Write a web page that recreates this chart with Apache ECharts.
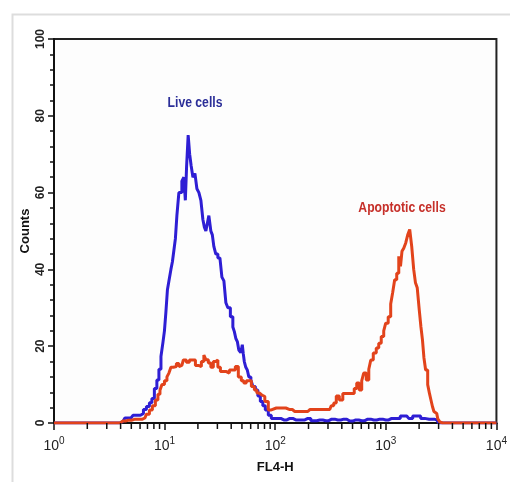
<!DOCTYPE html>
<html>
<head>
<meta charset="utf-8">
<script src="https://cdn.jsdelivr.net/npm/echarts@6/dist/echarts.min.js"></script>
<style>
html,body{margin:0;padding:0;background:#fff;}
#chart{width:510px;height:482px;}
</style>
</head>
<body>
<div id="chart"></div>
<script>
// FL4-H positions given as log10(FL4-H), counts
const liveLog = [0, 0.596, 0.623, 0.659, 0.696, 0.732, 0.768, 0.795, 0.822, 0.849, 0.876, 0.894, 0.921, 0.939, 0.958, 0.976, 0.994, 1.003, 1.021, 1.030, 1.048, 1.066, 1.075, 1.093, 1.102, 1.120, 1.138, 1.147, 1.165, 1.183, 1.192, 1.206, 1.220, 1.233, 1.247, 1.265, 1.283, 1.301, 1.319, 1.337, 1.355, 1.364, 1.382, 1.391, 1.409, 1.427, 1.436, 1.454, 1.472, 1.491, 1.509, 1.527, 1.545, 1.563, 1.581, 1.608, 1.626, 1.635, 1.653, 1.662, 1.680, 1.698, 1.707, 1.716, 1.725, 1.743, 1.752, 1.771, 1.789, 1.807, 1.834, 1.852, 1.879, 1.897, 1.924, 1.951, 1.978, 2.023, 2.078, 2.132, 2.186, 2.240, 2.295, 2.349, 2.403, 2.457, 2.511, 2.566, 2.620, 2.674, 2.728, 2.782, 2.837, 2.891, 2.945, 2.999, 3.053, 3.108, 3.153, 3.189, 3.225, 3.261, 3.297, 3.333, 3.369, 3.415, 3.460, 3.496, 4];
const liveCount = [0, 0, 0.4, 1.3, 1.3, 2, 2, 2.5, 3.5, 4.3, 5.3, 6.4, 9, 11.2, 14, 17.3, 21, 24, 29, 34.7, 37, 40, 42, 45, 48, 54, 60, 60, 63, 64, 58, 67, 75, 70, 67, 64, 65, 61, 60, 58, 53, 51, 50, 52, 54, 50, 49, 46, 44, 43, 42.5, 38, 37, 31.3, 30, 27.7, 25, 23.8, 22, 21.2, 19, 18.3, 20.4, 18, 16, 14.5, 13.8, 12, 11.2, 9.5, 8.6, 7, 5.6, 4.5, 3.4, 2, 1.2, 1.2, 0.8, 1.2, 0.8, 0.8, 1.2, 0.6, 0.8, 0.6, 1, 0.8, 1, 0.5, 0.8, 0.6, 1, 0.8, 1, 0.8, 1.2, 1.2, 1.8, 1.8, 1.2, 1.8, 1.8, 1.2, 1, 1, 0.8, 0, 0];

const apoLog = [0, 0.596, 0.623, 0.668, 0.732, 0.777, 0.822, 0.849, 0.876, 0.903, 0.930, 0.949, 0.967, 0.985, 1.012, 1.030, 1.048, 1.066, 1.093, 1.120, 1.138, 1.156, 1.183, 1.210, 1.238, 1.265, 1.292, 1.319, 1.346, 1.364, 1.382, 1.409, 1.427, 1.454, 1.472, 1.491, 1.518, 1.545, 1.572, 1.599, 1.626, 1.653, 1.680, 1.707, 1.725, 1.752, 1.771, 1.798, 1.825, 1.843, 1.870, 1.888, 1.924, 1.951, 1.978, 2.042, 2.096, 2.132, 2.177, 2.222, 2.276, 2.313, 2.358, 2.403, 2.448, 2.493, 2.520, 2.538, 2.566, 2.593, 2.629, 2.665, 2.701, 2.728, 2.746, 2.773, 2.791, 2.809, 2.837, 2.855, 2.873, 2.900, 2.927, 2.945, 2.972, 2.990, 3.008, 3.035, 3.053, 3.071, 3.089, 3.108, 3.126, 3.139, 3.153, 3.171, 3.189, 3.207, 3.225, 3.243, 3.261, 3.275, 3.293, 3.311, 3.324, 3.338, 3.351, 3.369, 3.388, 3.401, 3.415, 3.428, 3.442, 3.460, 3.478, 3.496, 3.514, 4];
const apoCount = [0, 0, 0.5, 0.7, 1, 1, 1.3, 2.3, 3.4, 4.5, 6, 7.5, 8.5, 10, 11, 12, 13, 14.5, 14.7, 15.5, 14.7, 15, 16.4, 15.8, 16.4, 16.4, 15, 14.7, 16, 17.7, 16.5, 15.6, 14.5, 16, 16.4, 14.5, 13.4, 13.4, 13, 13.8, 13.8, 14.7, 12, 11, 10.4, 11, 11, 9.5, 8.6, 7.8, 7.3, 6.9, 5.6, 3.4, 3.9, 3.9, 3.9, 3.5, 3, 3, 3, 3.5, 3.5, 3.5, 3.5, 3.5, 4.5, 5.2, 7, 6, 7.7, 7.7, 7.7, 9, 10.4, 8.6, 11, 13, 11.2, 14, 16.4, 18.2, 19.5, 20.8, 22.5, 24, 26, 27.7, 31, 34, 37.3, 39, 43.4, 40.8, 44.7, 45.5, 46.9, 49, 50.4, 46, 40, 36.5, 35.2, 29.5, 25, 21.7, 17, 13.8, 10, 7.7, 6, 4.3, 3, 2.5, 1.2, 0.3, 0, 0];

const decades = [0, 1, 2, 3];
const minorMultipliers = [2, 3, 4, 5, 6, 7, 8, 9];
const xAxisName = 'FL4-H';
const yAxisName = 'Counts';
const liveLabel = 'Live cells';
const apoLabel = 'Apoptotic cells';

const toPairs = (lg, cnt) => lg.map((v, i) => [Math.pow(10, v), cnt[i]]);
const minorTicks = [];
decades.forEach(d => minorMultipliers.forEach(m => minorTicks.push([m * Math.pow(10, d), 0])));

const FONT = "'Liberation Sans', Arial, sans-serif";

const chart = echarts.init(document.getElementById('chart'), null, {renderer: 'canvas'});
chart.setOption({
  animation: false,
  backgroundColor: '#ffffff',
  grid: {left: 54, right: 12, top: 39, bottom: 59, show: true, borderColor: '#222', borderWidth: 2, backgroundColor: '#fdfdfd'},
  xAxis: {
    type: 'log', logBase: 10, min: 1, max: 10000,
    name: xAxisName, nameLocation: 'middle', nameGap: 38, nameMoveOverlap: false,
    nameTextStyle: {fontFamily: FONT, fontWeight: 'bold', fontSize: 13, color: '#111'},
    axisLine: {lineStyle: {color: '#111', width: 2}},
    axisTick: {show: true, inside: false, length: 7, lineStyle: {color: '#111', width: 1.5}},
    splitLine: {show: false},
    axisLabel: {
      margin: 14,
      formatter: v => '{b|10}{e|' + Math.round(Math.log10(v)) + '}',
      rich: {
        b: {fontFamily: FONT, fontSize: 14, color: '#222', lineHeight: 18},
        e: {fontFamily: FONT, fontSize: 10, color: '#222', lineHeight: 10, padding: [0, 0, 9, 0]}
      }
    }
  },
  yAxis: {
    type: 'value', min: 0, max: 100, interval: 20,
    name: yAxisName, nameLocation: 'middle', nameGap: 22, nameRotate: 90, nameMoveOverlap: false,
    nameTextStyle: {fontFamily: FONT, fontWeight: 'bold', fontSize: 13, color: '#111'},
    axisLine: {show: true, lineStyle: {color: '#111', width: 2}},
    axisTick: {show: true, inside: false, length: 6, lineStyle: {color: '#111', width: 1.5}},
    minorTick: {show: true, splitNumber: 5, length: 4, lineStyle: {color: '#111', width: 1.5}},
    splitLine: {show: false},
    axisLabel: {rotate: 90, margin: 7, fontFamily: FONT, fontWeight: 'bold', fontSize: 12, color: '#222'}
  },
  series: [
    {
      type: 'custom', name: 'minor', data: minorTicks, clip: false, silent: true, z: 5,
      renderItem: (params, api) => {
        const p = api.coord([api.value(0), 0]);
        return {type: 'line', shape: {x1: p[0], y1: p[1], x2: p[0], y2: p[1] + 6}, style: {stroke: '#111', lineWidth: 1.5}};
      }
    },
    {
      type: 'line', name: liveLabel, data: toPairs(liveLog, liveCount), step: 'middle',
      showSymbol: false, lineStyle: {color: '#2e1ed4', width: 3}, z: 3
    },
    {
      type: 'line', name: apoLabel, data: toPairs(apoLog, apoCount), step: 'middle',
      showSymbol: false, lineStyle: {color: '#e2431b', width: 3}, z: 4
    }
  ],
  graphic: [
    {type: 'rect', left: 10, top: 12, shape: {width: 520, height: 500}, style: {fill: 'none', stroke: '#dddddd', lineWidth: 2}, z: -1},
    {type: 'text', x: 195, y: 103, scaleX: 0.87, style: {text: liveLabel, fontFamily: FONT, fontWeight: 'bold', fontSize: 14, fill: '#2b2e98', align: 'center', verticalAlign: 'middle'}},
    {type: 'text', x: 402, y: 208, scaleX: 0.87, style: {text: apoLabel, fontFamily: FONT, fontWeight: 'bold', fontSize: 14, fill: '#c6302a', align: 'center', verticalAlign: 'middle'}}
  ]
});
</script>
</body>
</html>
